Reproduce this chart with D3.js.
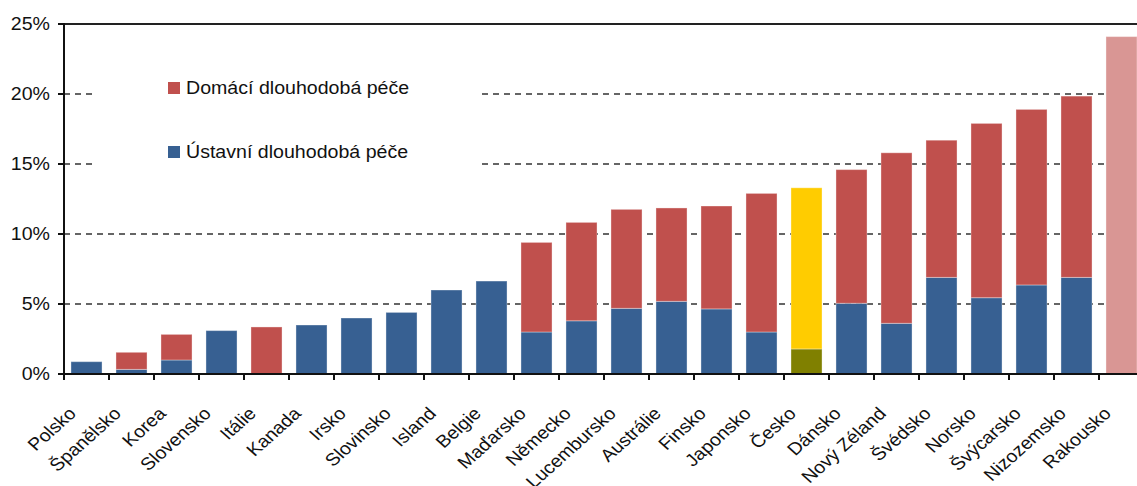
<!DOCTYPE html>
<html lang="cs">
  <head>
    <meta charset="utf-8" />
    <script src="https://d3js.org/d3.v7.min.js"></script>
    <style type="text/css">
      body {
        margin: 0;
        background-color: white;
      }
      svg#chart {
        display: block;
        font-family: "Liberation Sans", Arial, sans-serif;
      }
    </style>
  </head>

  <body>
    <svg id="chart" width="1137" height="486"></svg>

    <script>
      // categories (sorted by total), in %
      let countries = [
        "Polsko", "Španělsko", "Korea", "Slovensko", "Itálie", "Kanada",
        "Irsko", "Slovinsko", "Island", "Belgie", "Maďarsko", "Německo",
        "Lucembursko", "Austrálie", "Finsko", "Japonsko", "Česko", "Dánsko",
        "Nový Zéland", "Švédsko", "Norsko", "Švýcarsko", "Nizozemsko", "Rakousko"
      ];
      // Ústavní dlouhodobá péče (institutional)
      let institutional = [
        0.88, 0.33, 1.0, 3.1, 0, 3.5,
        4.0, 4.4, 6.0, 6.64, 3.0, 3.8,
        4.69, 5.19, 4.65, 3.0, 1.79, 5.05,
        3.62, 6.9, 5.45, 6.36, 6.9, 0
      ];
      // Domácí dlouhodobá péče (home)
      let home = [
        0, 1.22, 1.83, 0, 3.36, 0,
        0, 0, 0, 0, 6.4, 7.03,
        7.07, 6.67, 7.35, 9.9, 11.51, 9.55,
        12.18, 9.8, 12.45, 12.54, 12.95, 0
      ];
      // Rakousko only has a total, no split
      let totalOnly = { "Rakousko": 24.1 };
      let yTicks = [0, 5, 10, 15, 20, 25];
      let legendLabels = ["Domácí dlouhodobá péče", "Ústavní dlouhodobá péče"];

      let colInst = "#376092";
      let colHome = "#c0504d";
      let special = {
        "Česko": { inst: "#808000", home: "#ffcc00" },
        "Rakousko": { inst: "#d99694", home: "#d99694" }
      };

      // the source picture is a bit wider than tall, text gets stretched too
      let stretch = 1.12;
      let fontSize = 17.5;

      let svg = d3.select("#chart");
      let plotLeft = 64, plotRight = 1144, plotTop = 24, plotBottom = 374;

      let x = d3.scaleBand(countries, [plotLeft, plotRight])
        .paddingInner(0.31)
        .paddingOuter(0.155);
      let y = d3.scaleLinear([0, 25], [plotBottom, plotTop]);

      // dashed gridlines
      svg.append("g")
        .selectAll("line")
        .data(yTicks.filter(d => d > 0 && d < 25))
        .enter()
        .append("line")
        .attr("x1", plotLeft)
        .attr("x2", plotRight)
        .attr("y1", d => y(d))
        .attr("y2", d => y(d))
        .attr("stroke", "#333")
        .attr("stroke-width", 1.6)
        .attr("stroke-dasharray", "6,5");

      // white legend box hides part of the gridlines
      svg.append("rect")
        .attr("x", 97)
        .attr("y", 70)
        .attr("width", 381)
        .attr("height", 100)
        .attr("fill", "white");

      // bars
      let rows = countries.map(function (c, i) {
        return { name: c, inst: institutional[i], home: home[i] };
      });
      let bars = svg.append("g")
        .attr("stroke", "white")
        .attr("stroke-opacity", 0.35)
        .attr("stroke-width", 1);
      rows.forEach(function (d) {
        let cInst = special[d.name] ? special[d.name].inst : colInst;
        let cHome = special[d.name] ? special[d.name].home : colHome;
        if (totalOnly[d.name] !== undefined) {
          bars.append("rect")
            .attr("x", x(d.name))
            .attr("width", x.bandwidth())
            .attr("y", y(totalOnly[d.name]))
            .attr("height", y(0) - y(totalOnly[d.name]))
            .attr("fill", cHome);
          return;
        }
        if (d.inst > 0) {
          bars.append("rect")
            .attr("x", x(d.name))
            .attr("width", x.bandwidth())
            .attr("y", y(d.inst))
            .attr("height", y(0) - y(d.inst))
            .attr("fill", cInst);
        }
        if (d.home > 0) {
          bars.append("rect")
            .attr("x", x(d.name))
            .attr("width", x.bandwidth())
            .attr("y", y(d.inst + d.home))
            .attr("height", y(d.inst) - y(d.inst + d.home))
            .attr("fill", cHome);
        }
      });

      // top border
      svg.append("line")
        .attr("x1", plotLeft)
        .attr("x2", plotRight)
        .attr("y1", y(25))
        .attr("y2", y(25))
        .attr("stroke", "#222")
        .attr("stroke-width", 2);

      // y axis
      let yAxis = svg.append("g");
      yAxis.append("line")
        .attr("x1", plotLeft)
        .attr("x2", plotLeft)
        .attr("y1", y(25) - 1)
        .attr("y2", plotBottom + 1)
        .attr("stroke", "#111")
        .attr("stroke-width", 2);
      yAxis.selectAll("line.tick")
        .data(yTicks)
        .enter()
        .append("line")
        .attr("class", "tick")
        .attr("x1", plotLeft - 6)
        .attr("x2", plotLeft)
        .attr("y1", d => y(d))
        .attr("y2", d => y(d))
        .attr("stroke", "#111")
        .attr("stroke-width", 2);
      yAxis.selectAll("text")
        .data(yTicks)
        .enter()
        .append("text")
        .attr("transform", d => "translate(50," + y(d) + ") scale(" + stretch + ",1)")
        .attr("dy", "0.35em")
        .attr("text-anchor", "end")
        .attr("font-size", fontSize)
        .attr("fill", "#111")
        .text(d => d + "%");

      // x axis
      let xAxis = svg.append("g");
      xAxis.append("line")
        .attr("x1", plotLeft - 6)
        .attr("x2", plotRight)
        .attr("y1", plotBottom)
        .attr("y2", plotBottom)
        .attr("stroke", "#111")
        .attr("stroke-width", 2);
      let step = x.step();
      xAxis.selectAll("line.tick")
        .data(countries)
        .enter()
        .append("line")
        .attr("class", "tick")
        .attr("x1", (d, i) => plotLeft + step * i)
        .attr("x2", (d, i) => plotLeft + step * i)
        .attr("y1", plotBottom)
        .attr("y2", plotBottom + 6)
        .attr("stroke", "#111")
        .attr("stroke-width", 2);
      xAxis.selectAll("text")
        .data(countries)
        .enter()
        .append("text")
        .attr("transform", function (d) {
          let cx = x(d) + x.bandwidth() / 2 - 19;
          return "translate(" + cx + "," + (plotBottom + 32) + ") scale(" +
            stretch + ",1) rotate(-45)";
        })
        .attr("text-anchor", "end")
        .attr("dy", "0.7em")
        .attr("font-size", fontSize)
        .attr("fill", "#111")
        .text(d => d);

      // legend
      let legend = svg.append("g");
      let legendColors = [colHome, colInst];
      legendLabels.forEach(function (label, i) {
        let ly = 82 + i * 64;
        legend.append("rect")
          .attr("x", 168)
          .attr("y", ly)
          .attr("width", 12)
          .attr("height", 12)
          .attr("fill", legendColors[i]);
        legend.append("text")
          .attr("transform", "translate(186," + (ly + 12) + ") scale(" + stretch + ",1)")
          .attr("font-size", fontSize)
          .attr("fill", "#111")
          .text(label);
      });
    </script>
  </body>
</html>
